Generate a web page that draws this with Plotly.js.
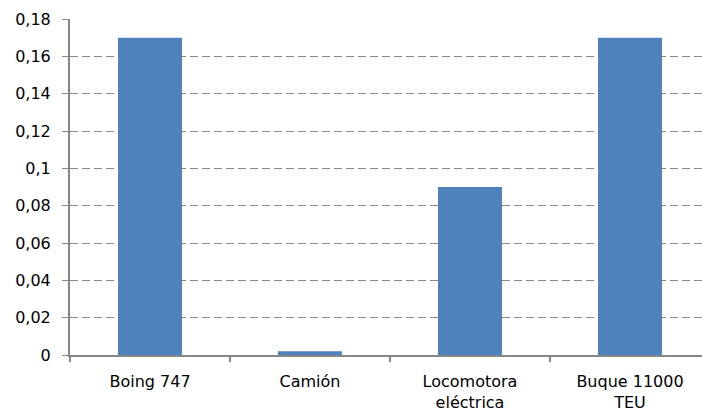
<!DOCTYPE html>
<html>
<head>
<meta charset="utf-8">
<script src="https://cdn.plot.ly/plotly-3.0.1.min.js"></script>
<style>
html,body{margin:0;padding:0;overflow:hidden;background:#fff;width:702px;height:409px;}
#chart{width:712px;height:409px;}
</style>
</head>
<body>
<div id="chart"></div>
<script>
const categories = ["Boing 747", "Camión", "Locomotora<br>eléctrica", "Buque 11000<br>TEU"];
const values = [0.17, 0.002, 0.09, 0.17];
const yTickVals = [0, 0.02, 0.04, 0.06, 0.08, 0.1, 0.12, 0.14, 0.16, 0.18];
const yTickText = ["0", "0,02", "0,04", "0,06", "0,08", "0,1", "0,12", "0,14", "0,16", "0,18"];

const trace = {
  type: "bar",
  x: categories,
  y: values,
  marker: {color: "#4f81bd", line: {width: 0}},
  hoverinfo: "skip"
};

const layout = {
  width: 712,
  height: 409,
  margin: {l: 70, r: 2, t: 19, b: 54},
  paper_bgcolor: "#ffffff",
  plot_bgcolor: "#ffffff",
  bargap: 0.6,
  showlegend: false,
  font: {family: "DejaVu Sans, Liberation Sans, Arial, sans-serif", size: 16, color: "#000000"},
  xaxis: {
    type: "category",
    range: [-0.5, 3.5],
    tickson: "boundaries",
    ticks: "outside",
    ticklen: 5,
    tickwidth: 2,
    tickcolor: "#868686",
    showline: true,
    linecolor: "#868686",
    linewidth: 2,
    showgrid: false,
    zeroline: false,
    ticklabelstandoff: 11,
    tickfont: {size: 16}
  },
  yaxis: {
    range: [0, 0.18],
    tickvals: yTickVals,
    ticktext: yTickText,
    ticks: "outside",
    ticklen: 6,
    tickwidth: 1,
    tickcolor: "#868686",
    showline: true,
    linecolor: "#868686",
    linewidth: 2,
    showgrid: true,
    gridcolor: "#8a8a8a",
    gridwidth: 1,
    griddash: "8px,4px",
    zeroline: false,
    ticklabelstandoff: 8,
    tickfont: {size: 16}
  }
};

Plotly.newPlot("chart", [trace], layout, {staticPlot: true, displayModeBar: false});
</script>
</body>
</html>
